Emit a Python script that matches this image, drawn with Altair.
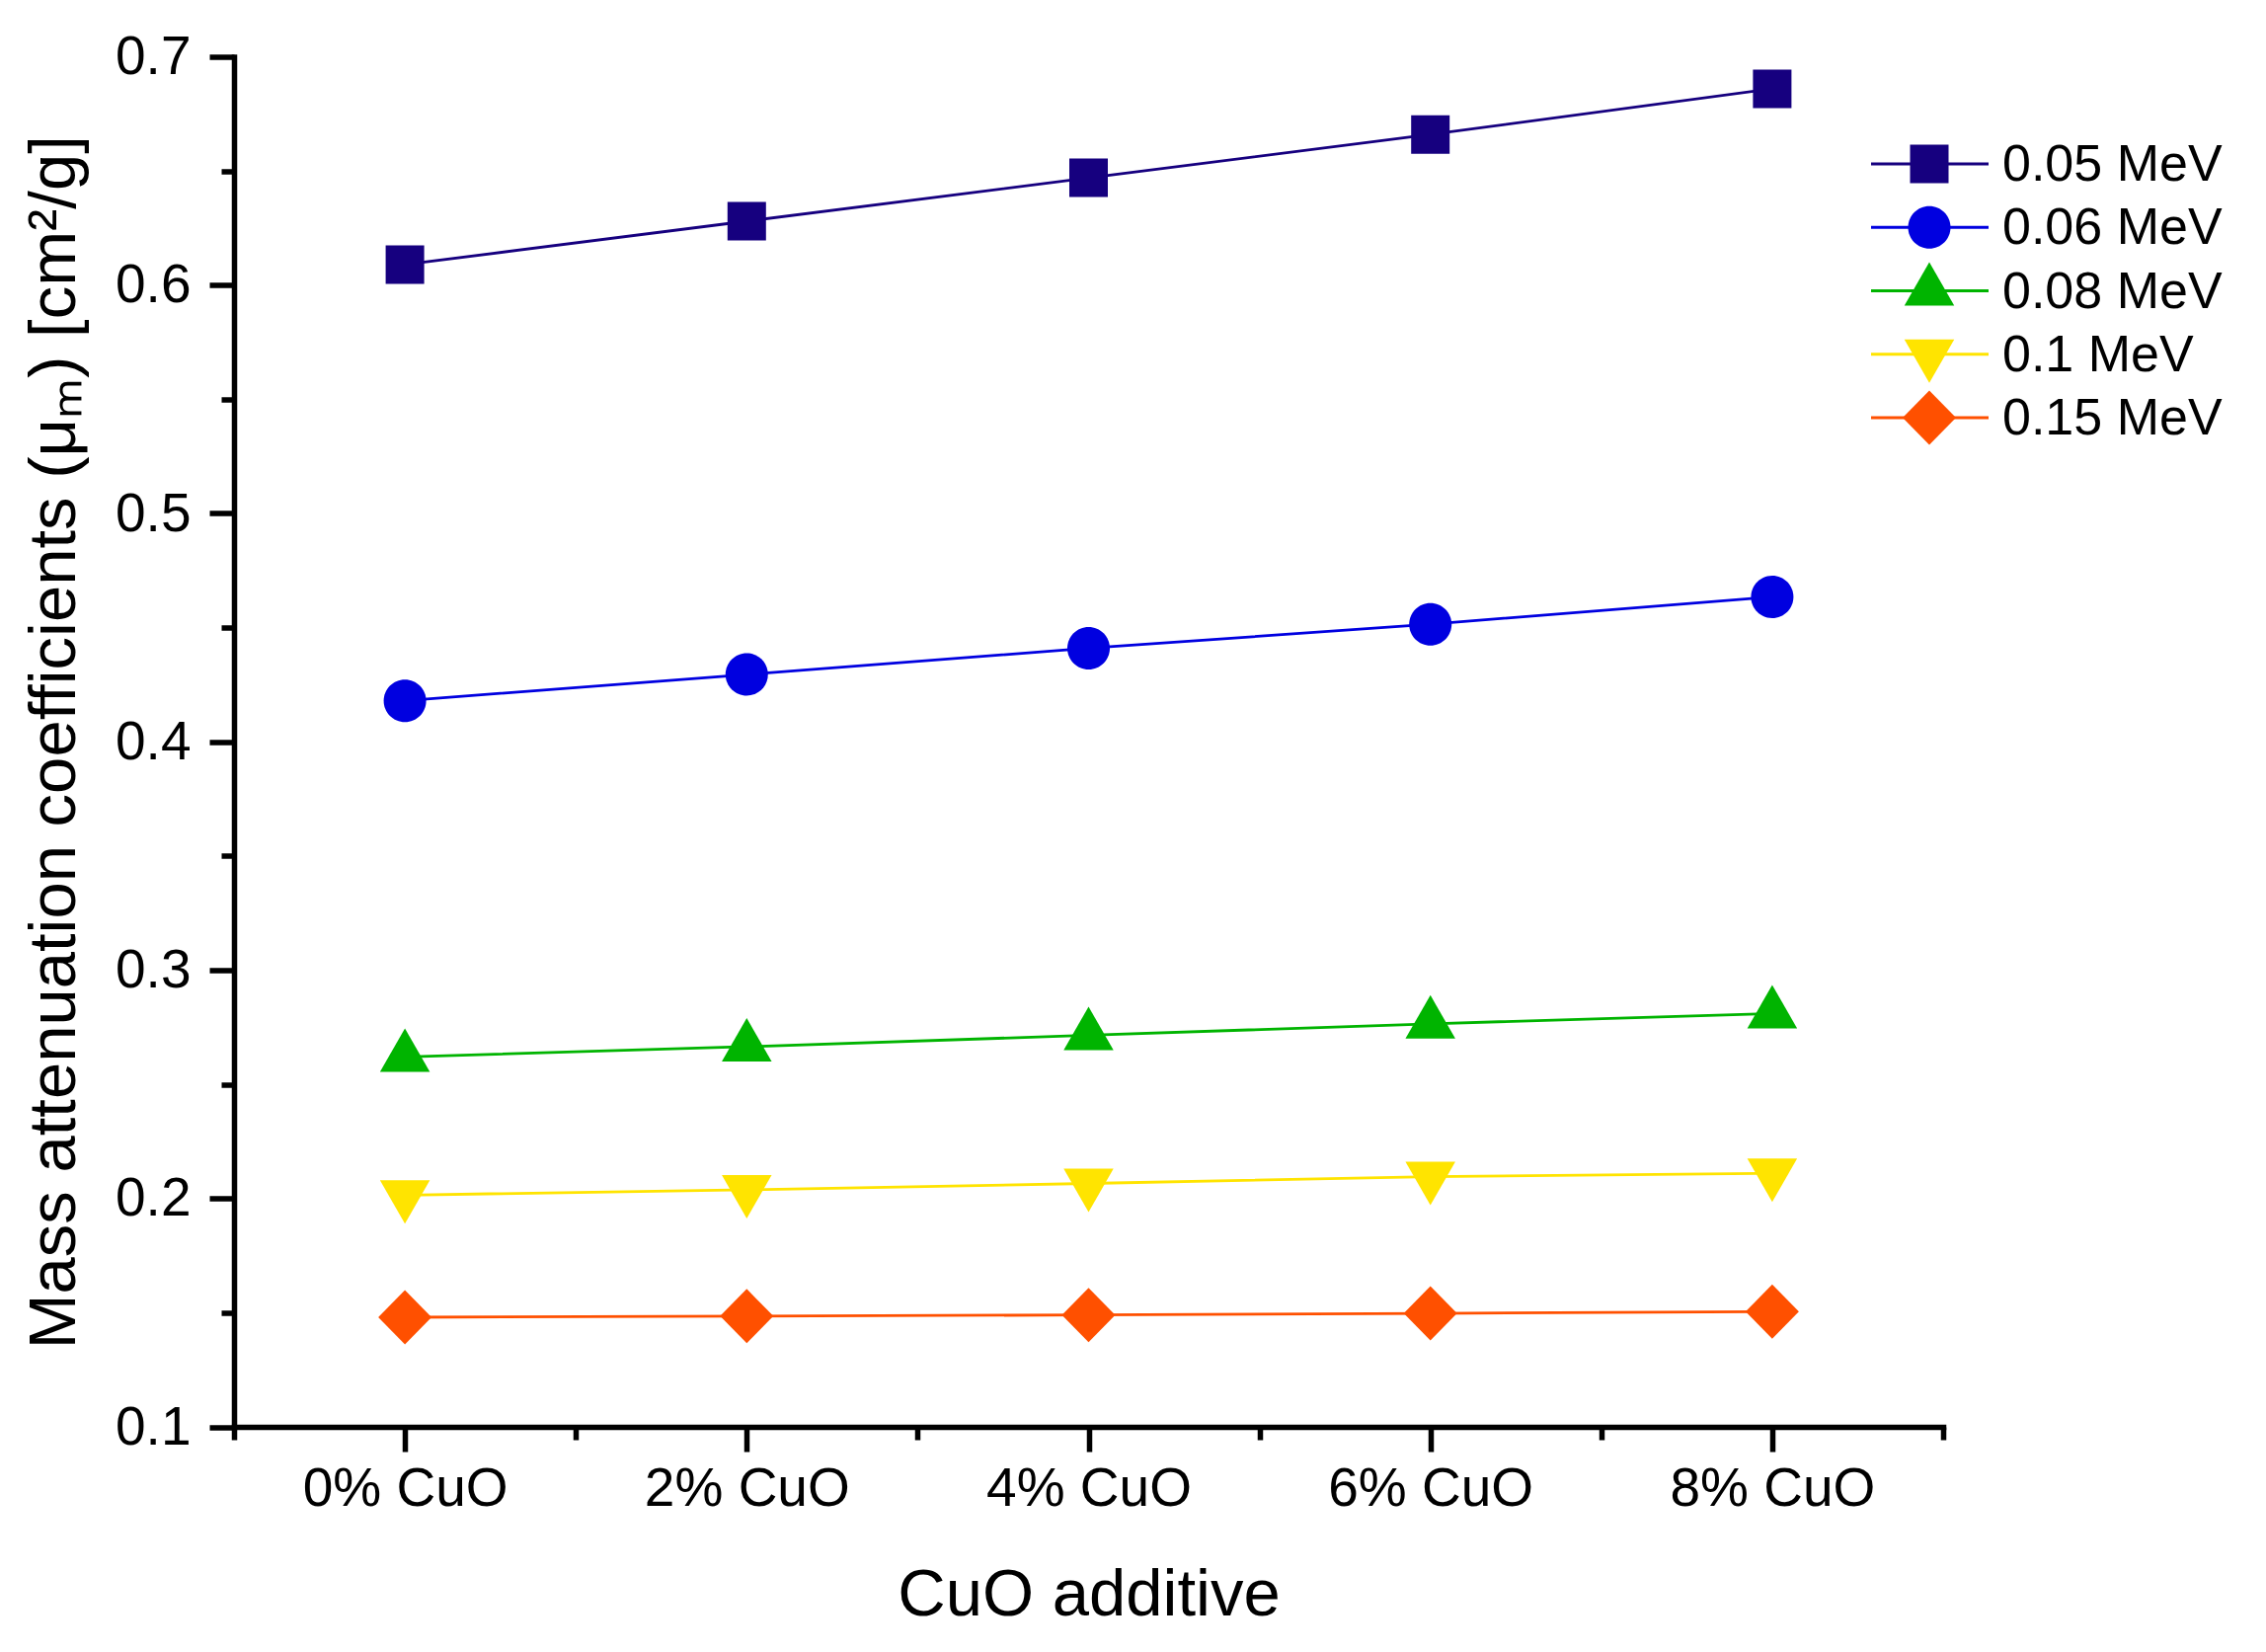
import altair as alt
import pandas as pd

FONT = "Liberation Sans"

categories = ["0% CuO", "2% CuO", "4% CuO", "6% CuO", "8% CuO"]
series_names = ["0.05 MeV", "0.06 MeV", "0.08 MeV", "0.1 MeV", "0.15 MeV"]
mu_005 = [0.609, 0.628, 0.647, 0.666, 0.686]
mu_006 = [0.418, 0.4295, 0.441, 0.4515, 0.4635]
mu_008 = [0.262, 0.2665, 0.2715, 0.2765, 0.281]
mu_010 = [0.2015, 0.2038, 0.2066, 0.2096, 0.211]
mu_015 = [0.148, 0.1485, 0.149, 0.1497, 0.1505]
series_colors = ["#16007f", "#0000e0", "#00b400", "#ffe400", "#ff5000"]
y_ticks = [0.1, 0.15, 0.2, 0.25, 0.3, 0.35, 0.4, 0.45, 0.5, 0.55, 0.6, 0.65, 0.7]

# marker outlines (unit = sqrt(size)/2 px)
marker_paths = [
    "M-0.78,-0.78H0.78V0.78H-0.78Z",
    "M0.86,0A0.86,0.86,0,1,1,-0.86,0A0.86,0.86,0,1,1,0.86,0Z",
    "M0,-1.16L1.01,0.6L-1.01,0.6Z",
    "M0,1.16L1.01,-0.6L-1.01,-0.6Z",
    "M0,-1.1L1.08,0L0,1.1L-1.08,0Z",
]

all_vals = [mu_005, mu_006, mu_008, mu_010, mu_015]
rows = []
for name, vals in zip(series_names, all_vals):
    for i, (cat, v) in enumerate(zip(categories, vals)):
        rows.append({"series": name, "idx": i, "category": cat, "mu": v})
df = pd.DataFrame(rows)
leg_df = pd.DataFrame({"series": series_names})

n = len(categories)
x_tick_vals = [k / 2 - 0.5 for k in range(2 * n + 1)]
js_cats = "[" + ",".join("'" + c + "'" for c in categories) + "]"

x_axis = alt.Axis(
    title="CuO additive",
    values=x_tick_vals,
    labelExpr=f"datum.value % 1 == 0 ? {js_cats}[datum.value] : ''",
    tickSize={"condition": {"test": "datum.value % 1 == 0", "value": 25}, "value": 13},
    labelFontSize=55,
    labelPadding=11,
    labelLimit=0,
    labelFlush=False,
    labelOverlap=False,
    titleFontSize=67,
    titleFontWeight="normal",
    titleY=190,
    titleBaseline="alphabetic",
    grid=False,
)
y_axis = alt.Axis(
    title="Mass attenuation coefficients (\u03bc\u2098) [cm\u00b2/g]",
    values=y_ticks,
    labelExpr="abs(datum.value*10 - round(datum.value*10)) < 0.001 ? format(datum.value, '.1f') : ''",
    tickSize={"condition": {"test": "abs(datum.value*10 - round(datum.value*10)) < 0.001", "value": 25}, "value": 13},
    labelFontSize=55,
    labelPadding=19,
    labelLimit=0,
    labelFlush=False,
    labelOverlap=False,
    titleFontSize=67,
    titleFontWeight="normal",
    titleAngle=270,
    titleX=-162,
    titleAlign="center",
    titleBaseline="alphabetic",
    grid=False,
)

x_enc = alt.X("idx:Q", scale=alt.Scale(domain=[-0.5, n - 0.5], nice=False, zero=False), axis=x_axis)
y_enc = alt.Y("mu:Q", scale=alt.Scale(domain=[0.1, 0.7], nice=False, zero=False), axis=y_axis)
color_enc = alt.Color("series:N", scale=alt.Scale(domain=series_names, range=series_colors), legend=None)
shape_enc = alt.Shape("series:N", scale=alt.Scale(domain=series_names, range=marker_paths), legend=None)

lines = alt.Chart(df).mark_line(strokeWidth=2.8).encode(x=x_enc, y=y_enc, color=color_enc)
points = alt.Chart(df).mark_point(filled=True, opacity=1, size=2500, strokeWidth=0).encode(
    x=x_enc, y=y_enc, color=color_enc, shape=shape_enc
)
main = alt.layer(lines, points)

# legend (line + marker + label), placed at the upper right
leg_y = alt.Y(
    "series:N",
    scale=alt.Scale(type="point", domain=series_names, range=[108.5, 365.5], padding=0),
    axis=None,
)
leg_line = alt.Chart(leg_df).mark_rule(strokeWidth=2.8).encode(
    x=alt.value(1658), x2=alt.value(1777), y=leg_y, color=color_enc
)
leg_marker = alt.Chart(leg_df).mark_point(filled=True, opacity=1, size=2500, strokeWidth=0).encode(
    x=alt.value(1717), y=leg_y, color=color_enc, shape=shape_enc
)
leg_text = alt.Chart(leg_df).mark_text(
    align="left", baseline="middle", fontSize=52, font=FONT, color="black", dy=1
).encode(x=alt.value(1791), y=leg_y, text="series:N")
legend_layer = alt.layer(leg_line, leg_marker, leg_text)

chart = (
    alt.layer(main, legend_layer)
    .resolve_scale(y="independent")
    .properties(
        width=1731,
        height=1387.5,
        padding={"left": 229, "top": 49.5, "right": 319, "bottom": 220},
        autosize=alt.AutoSizeParams(type="none"),
        background="white",
    )
    .configure(font=FONT)
    .configure_view(strokeWidth=0)
    .configure_axis(
        domainColor="black",
        domainWidth=5.5,
        domainCap="square",
        tickColor="black",
        tickWidth=5.5,
        tickSize=25,
        labelColor="black",
        titleColor="black",
        labelFont=FONT,
        titleFont=FONT,
    )
)

chart.save("out.html", embed_options={"renderer": "svg", "actions": False})
